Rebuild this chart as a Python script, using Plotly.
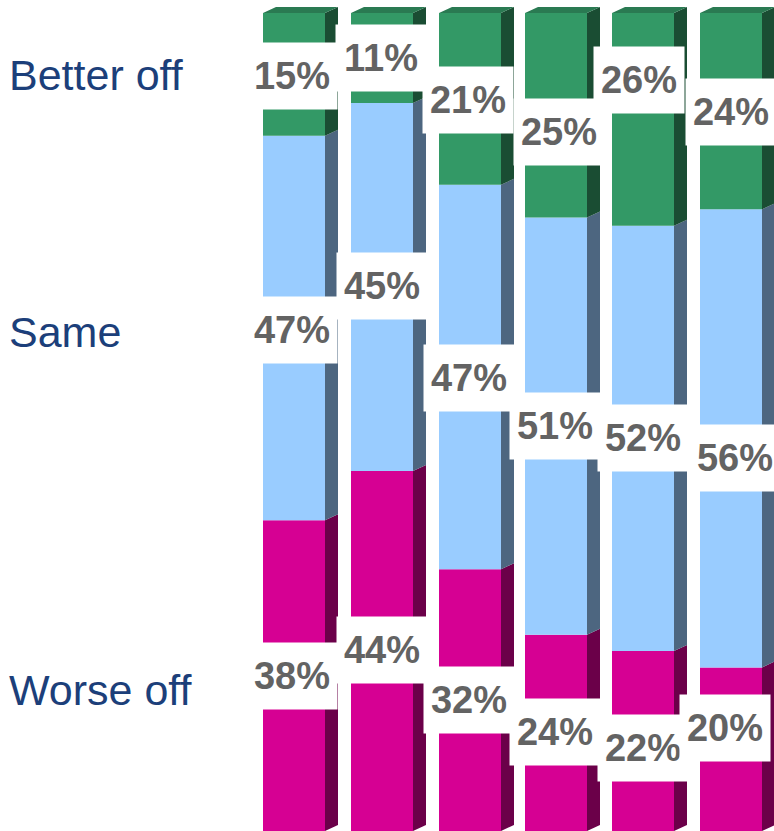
import plotly.graph_objects as go

# Survey shares per column, stacked bottom to top
worse_off = [38, 44, 32, 24, 22, 20]
same = [47, 45, 47, 51, 52, 56]
better_off = [15, 11, 21, 25, 26, 24]

series_names = ["Worse off", "Same", "Better off"]
series_values = [worse_off, same, better_off]
front_colors = ["#D60093", "#99CCFF", "#339966"]
side_colors = ["#6B0049", "#4D6680", "#1A4D33"]
top_color = "#2A7A52"
row_label_y = [690, 332, 75]

# Canvas geometry
WIDTH, HEIGHT = 774, 831
UNIT = 8.18  # pixels per percentage point
BAR_W = 62
DEPTH_X, DEPTH_Y = 13, 6 / UNIT
slot_x = [294, 382, 470, 556, 643, 731]

# Centres of the white value labels, per series and column
label_x = [
    [292, 382, 469, 555, 643, 725],
    [292, 382, 469, 555, 643, 735],
    [292, 381, 468, 559, 639, 731],
]
label_y = [
    [676, 650, 700, 732, 748, 728],
    [330, 286, 378, 426, 438, 458],
    [76, 58, 100, 132, 80, 112],
]

fig = go.Figure()
bottoms = [0] * len(slot_x)
for name, values, front, side in zip(series_names, series_values, front_colors, side_colors):
    fig.add_trace(go.Bar(
        x=slot_x, y=values, base=bottoms, width=BAR_W,
        name=name, marker=dict(color=front, line=dict(width=0)),
    ))
    # Right-hand face of each block, sheared to give the 3D look
    xs, ys = [], []
    for cx, b, v in zip(slot_x, bottoms, values):
        r = cx + BAR_W / 2
        xs += [r, r + DEPTH_X, r + DEPTH_X, r, r, None]
        ys += [b, b + DEPTH_Y, b + v + DEPTH_Y, b + v, b, None]
    fig.add_trace(go.Scatter(
        x=xs, y=ys, mode="lines", fill="toself", fillcolor=side,
        line=dict(width=0), hoverinfo="skip",
    ))
    bottoms = [b + v for b, v in zip(bottoms, values)]

# Top face of each column
xs, ys = [], []
for cx, t in zip(slot_x, bottoms):
    l, r = cx - BAR_W / 2, cx + BAR_W / 2
    xs += [l, l + DEPTH_X, r + DEPTH_X, r, l, None]
    ys += [t, t + DEPTH_Y, t + DEPTH_Y, t, t, None]
fig.add_trace(go.Scatter(
    x=xs, y=ys, mode="lines", fill="toself", fillcolor=top_color,
    line=dict(width=0), hoverinfo="skip",
))

# Value labels on white plates, in the columns' left-to-right order
annotations = []
for col in range(len(slot_x)):
    for s, values in enumerate(series_values):
        annotations.append(dict(
            xref="paper", yref="paper",
            x=label_x[s][col] / WIDTH, y=1 - label_y[s][col] / HEIGHT,
            xanchor="center", yanchor="middle",
            text=f"<b>{values[col]}%</b>", showarrow=False,
            width=90, height=66, align="center", valign="middle",
            bgcolor="#FFFFFF", borderpad=0,
            font=dict(family="Liberation Sans", size=38, color="#636363"),
        ))

# Row titles on the left
for name, y in zip(series_names, row_label_y):
    annotations.append(dict(
        xref="paper", yref="paper", x=8 / WIDTH, y=1 - y / HEIGHT,
        xanchor="left", yanchor="middle", text=name, showarrow=False,
        borderpad=0, font=dict(family="Liberation Sans", size=43, color="#1C3F7A"),
    ))

fig.update_layout(
    width=WIDTH, height=HEIGHT, margin=dict(l=0, r=0, t=0, b=0),
    paper_bgcolor="#FFFFFF", plot_bgcolor="#FFFFFF",
    barmode="overlay", showlegend=False, annotations=annotations,
    xaxis=dict(range=[0, WIDTH], visible=False, fixedrange=True),
    yaxis=dict(range=[0, HEIGHT / UNIT], visible=False, fixedrange=True),
)

fig.write_html("out.html", config=dict(displayModeBar=False))
